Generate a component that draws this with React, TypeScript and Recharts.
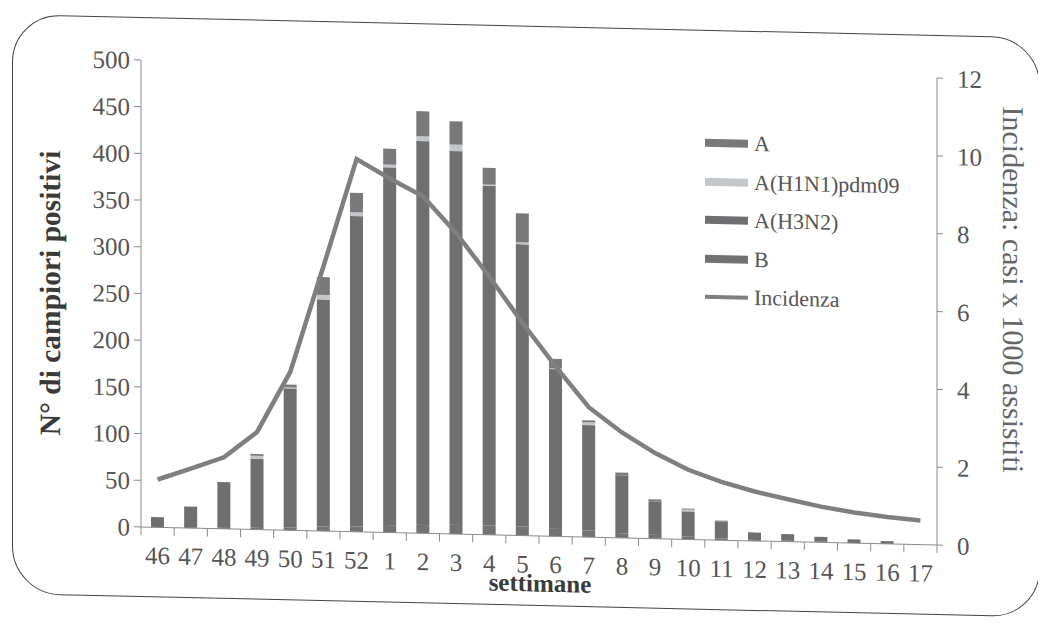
import React from 'react';
import { ComposedChart, Bar, Line, XAxis, YAxis, Legend } from 'recharts';

// weeks of the season (2016-17 style numbering)
const weeks = ['46', '47', '48', '49', '50', '51', '52', '1', '2', '3', '4', '5', '6', '7', '8', '9', '10', '11', '12', '13', '14', '15', '16', '17'];

// stacked bars, bottom to top: B, A(H3N2), A(H1N1)pdm09, A
const seriesB = [0, 1, 1, 2, 3, 5, 6, 8, 9, 10, 10, 10, 8, 7, 5, 4, 3, 2, 1, 1, 1, 0, 0, 0];
const seriesH3N2 = [11, 22, 49, 74, 149, 243, 332, 383, 411, 400, 364, 302, 171, 113, 62, 36, 27, 18, 8, 7, 5, 4, 3, 0];
const seriesH1N1 = [0, 0, 0, 3, 1, 5, 4, 3, 5, 7, 1, 2, 1, 3, 0, 0, 2, 0, 0, 0, 0, 0, 0, 0];
const seriesA = [0, 0, 0, 2, 3, 19, 21, 17, 27, 25, 18, 31, 10, 2, 3, 2, 1, 1, 0, 0, 0, 0, 0, 0];

// incidence per 1000 patients (right axis)
const incidenza = [1.23, 1.53, 1.84, 2.51, 4.07, 6.8, 9.58, 9.1, 8.66, 7.74, 6.64, 5.47, 4.37, 3.34, 2.71, 2.2, 1.79, 1.5, 1.27, 1.09, 0.92, 0.79, 0.69, 0.62];

const leftTicks = [0, 50, 100, 150, 200, 250, 300, 350, 400, 450, 500];
const rightTicks = [0, 2, 4, 6, 8, 10, 12];

const data = weeks.map((w, i) => ({
  week: w,
  B: seriesB[i],
  H3N2: seriesH3N2[i],
  H1N1: seriesH1N1[i],
  A: seriesA[i],
  inc: incidenza[i],
}));

const FONT = '"Liberation Serif", "Times New Roman", serif';
const PLOT_W = 796;
const STEP = PLOT_W / weeks.length;
const AXIS = '#8a8a8a';
const TXT = '#555';

const COLORS = { A: '#79797c', H1N1: '#c4c7ca', H3N2: '#6f6f72', B: '#727275', line: '#7f7f7f' };

const legendItems = [
  { name: 'A', color: COLORS.A, line: false },
  { name: 'A(H1N1)pdm09', color: COLORS.H1N1, line: false },
  { name: 'A(H3N2)', color: COLORS.H3N2, line: false },
  { name: 'B', color: COLORS.B, line: false },
  { name: 'Incidenza', color: COLORS.line, line: true },
];

function WeekTick(props: any) {
  const { x, y, payload, index } = props;
  const axisY = y - 19;
  return (
    <g>
      <line x1={x - STEP / 2} x2={x - STEP / 2} y1={axisY} y2={axisY + 8} stroke={AXIS} />
      {index === weeks.length - 1 && (
        <line x1={x + STEP / 2} x2={x + STEP / 2} y1={axisY} y2={axisY + 8} stroke={AXIS} />
      )}
      <text x={x} y={y} dy="0.71em" textAnchor="middle" fill={TXT} fontSize={25} fontFamily={FONT}>
        {payload.value}
      </text>
    </g>
  );
}

function LegendBox() {
  return (
    <div style={{ fontFamily: FONT, fontSize: 22, color: TXT }}>
      {legendItems.map((it) => (
        <div key={it.name} style={{ display: 'flex', alignItems: 'center', height: 38.5 }}>
          <div style={{ width: 43, height: it.line ? 4 : 8, background: it.color }} />
          <span style={{ marginLeft: 6 }}>{it.name}</span>
        </div>
      ))}
    </div>
  );
}

export default function App() {
  return (
    <div
      style={{
        position: 'relative',
        width: 1034,
        height: 625,
        transform: 'skewY(1.3deg)',
        transformOrigin: '133px 0',
      }}
    >
      <div
        style={{
          position: 'absolute',
          left: 4,
          top: 9,
          width: 1028,
          height: 580,
          border: '1.5px solid #444',
          borderRadius: 48,
          boxSizing: 'border-box',
        }}
      />
      <div style={{ position: 'absolute', left: 0, top: 0 }}>
        <ComposedChart
          width={1030}
          height={620}
          data={data}
          margin={{ top: 52, right: 41, left: 73, bottom: 71 }}
          barCategoryGap={0}
        >
          <XAxis
            dataKey="week"
            height={30}
            tickLine={false}
            tickSize={8}
            tickMargin={11}
            stroke={AXIS}
            interval={0}
            tick={<WeekTick />}
            label={{
              content: () => (
                <text x={532} y={566} textAnchor="middle" dominantBaseline="central" fontFamily={FONT} fontSize={25} fontWeight="bold" fill="#3a3a3a">
                  settimane
                </text>
              ),
            }}
          />
          <YAxis
            yAxisId="left"
            width={60}
            domain={[0, 500]}
            ticks={leftTicks}
            interval={0}
            stroke={AXIS}
            tickSize={7}
            tickMargin={4}
            tick={{ fill: TXT, fontSize: 25, fontFamily: FONT }}
            label={{
              content: () => (
                <text x={42} y={287} transform="rotate(-90 42 287)" textAnchor="middle" dominantBaseline="central" fontFamily={FONT} fontSize={29.5} fontWeight="bold" fill="#3a3a3a">
                  N° di campiori positivi
                </text>
              ),
            }}
          />
          <YAxis
            yAxisId="right"
            orientation="right"
            width={60}
            domain={[0, 12]}
            ticks={rightTicks}
            interval={0}
            stroke={AXIS}
            tickSize={6}
            tickMargin={14}
            tick={{ fill: TXT, fontSize: 25, fontFamily: FONT, textAnchor: 'start' }}
            label={{
              content: () => (
                <text x={1005} y={262} transform="rotate(90 1005 262)" textAnchor="middle" dominantBaseline="central" fontFamily={FONT} fontSize={30} fill="#666">
                  Incidenza: casi x 1000 assistiti
                </text>
              ),
            }}
          />
          <Legend
            layout="vertical"
            align="center"
            verticalAlign="middle"
            wrapperStyle={{ left: 697, top: 103, width: 'auto' }}
            content={() => <LegendBox />}
          />
          <Bar yAxisId="left" dataKey="B" name="B" stackId="s" fill={COLORS.B} barSize={13} isAnimationActive={false} />
          <Bar yAxisId="left" dataKey="H3N2" name="A(H3N2)" stackId="s" fill={COLORS.H3N2} barSize={13} isAnimationActive={false} />
          <Bar yAxisId="left" dataKey="H1N1" name="A(H1N1)pdm09" stackId="s" fill={COLORS.H1N1} barSize={13} isAnimationActive={false} />
          <Bar yAxisId="left" dataKey="A" name="A" stackId="s" fill={COLORS.A} barSize={13} isAnimationActive={false} />
          <Line
            yAxisId="right"
            dataKey="inc"
            name="Incidenza"
            type="linear"
            stroke={COLORS.line}
            strokeWidth={4.5}
            dot={false}
            activeDot={false}
            isAnimationActive={false}
          />
        </ComposedChart>
      </div>
    </div>
  );
}
